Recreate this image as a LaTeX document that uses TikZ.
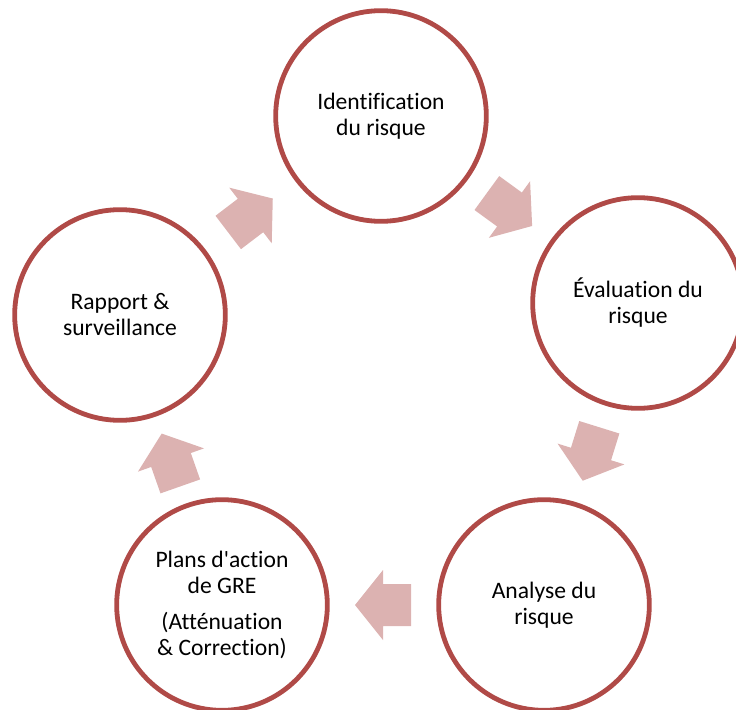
\documentclass[tikz,border=0pt]{standalone}
\usepackage{fontspec}
\setmainfont{Carlito}[Ligatures={NoCommon}]
\definecolor{ringred}{RGB}{176,74,71}
\definecolor{arrowpink}{RGB}{220,178,177}

\begin{document}
\begin{tikzpicture}[x=0.75pt,y=-0.75pt,main node/.style={circle,draw=ringred,line width=3.6pt,fill=white,minimum size=158pt,inner sep=0pt,align=center,font=\fontsize{17.7}{19.5}\selectfont},cycle arrow/.pic={\fill[arrowpink] (-28,-21) -- (0,-21) -- (0,-35) -- (28,0) -- (0,35) -- (0,21) -- (-28,21) -- cycle;}]
		
		\useasboundingbox (0,0) rectangle (736,710);
		
		\node[main node] at (381,116) (1) {Identification\\ du risque};
		\node[main node] at (638,303) (2) {Évaluation du\\ risque};
		\node[main node] at (544,605) (3) {Analyse du\\ risque};
		\node[main node] at (222,605) (4) {Plans d\textquotesingle action\\ de GRE\\[8pt] (Atténuation\\ \& Correction)};
		\node[main node] at (120,315) (5) {Rapport \&\\ surveillance};
		
		
		\path
		(1) -- pic[midway,sloped,allow upside down]{cycle arrow} (2)
		(2) -- pic[midway,sloped,allow upside down]{cycle arrow} (3)
		(3) -- pic[midway,sloped,allow upside down]{cycle arrow} (4)
		(4) -- pic[midway,sloped,allow upside down]{cycle arrow} (5)
		(5) -- pic[midway,sloped,allow upside down]{cycle arrow} (1)
		;
		
		\end{tikzpicture}
\end{document}
